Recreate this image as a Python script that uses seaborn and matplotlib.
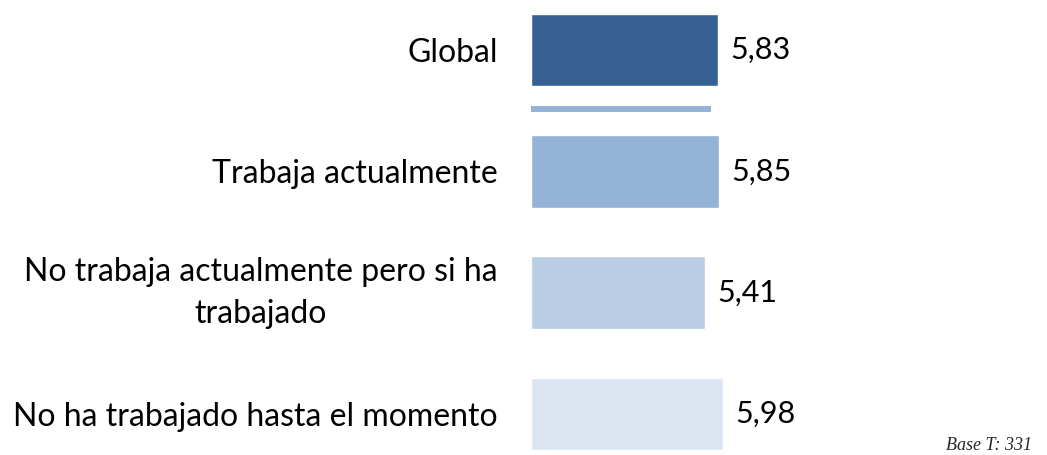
import matplotlib
matplotlib.use("Agg")
import matplotlib.pyplot as plt
import matplotlib.transforms as mtransforms
import seaborn as sns
import pandas as pd

# Data
categories = [
    "Global",
    "Trabaja actualmente",
    "No trabaja actualmente pero si ha\ntrabajado",
    "No ha trabajado hasta el momento",
]
values = [5.83, 5.85, 5.41, 5.98]
value_labels = ["5,83", "5,85", "5,41", "5,98"]
colors = ["#376092", "#95B3D7", "#B9CDE5", "#DCE6F2"]
base_note = "Base T: 331"

sns.set_style("white")
plt.rcParams["font.family"] = ["Lato", "DejaVu Sans"]

df = pd.DataFrame({"categoria": categories, "valor": values})

fig = plt.figure(figsize=(10.47, 4.55), dpi=100)
ax = fig.add_axes([531 / 1047, 0, 516 / 1047, 1])

sns.barplot(
    data=df, x="valor", y="categoria", hue="categoria",
    palette=colors, orient="h", width=0.6, legend=False,
    saturation=1, ax=ax,
)

ax.set_xlim(0, 16.07)
ax.set_ylim(3.338, -0.412)

# thin separator between the total and the breakdown
ax.hlines(0.49, 0, 5.62, color="#95B3D7", linewidth=4.3)

for i, (v, lab) in enumerate(zip(values, value_labels)):
    ax.annotate(lab, xy=(v, i), xytext=(9, 0), textcoords="offset points",
                ha="left", va="center", fontsize=22, color="black")

ax.set_xlabel("")
ax.set_ylabel("")
ax.set_xticks([])
ax.tick_params(axis="y", length=0, pad=24, labelsize=23, labelcolor="black")
lift = mtransforms.ScaledTranslation(0, 6 / 72, fig.dpi_scale_trans)
for t in ax.get_yticklabels():
    t.set_multialignment("center")
    t.set_linespacing(1.5)
    if "\n" in t.get_text():
        t.set_transform(t.get_transform() + lift)
for s in ax.spines.values():
    s.set_visible(False)

fig.text(1032 / 1047, 1 - 450 / 455, base_note, ha="right", va="baseline",
         fontsize=13, style="italic", family=["Liberation Serif", "DejaVu Serif"])

fig.savefig("out.png", dpi=100)
